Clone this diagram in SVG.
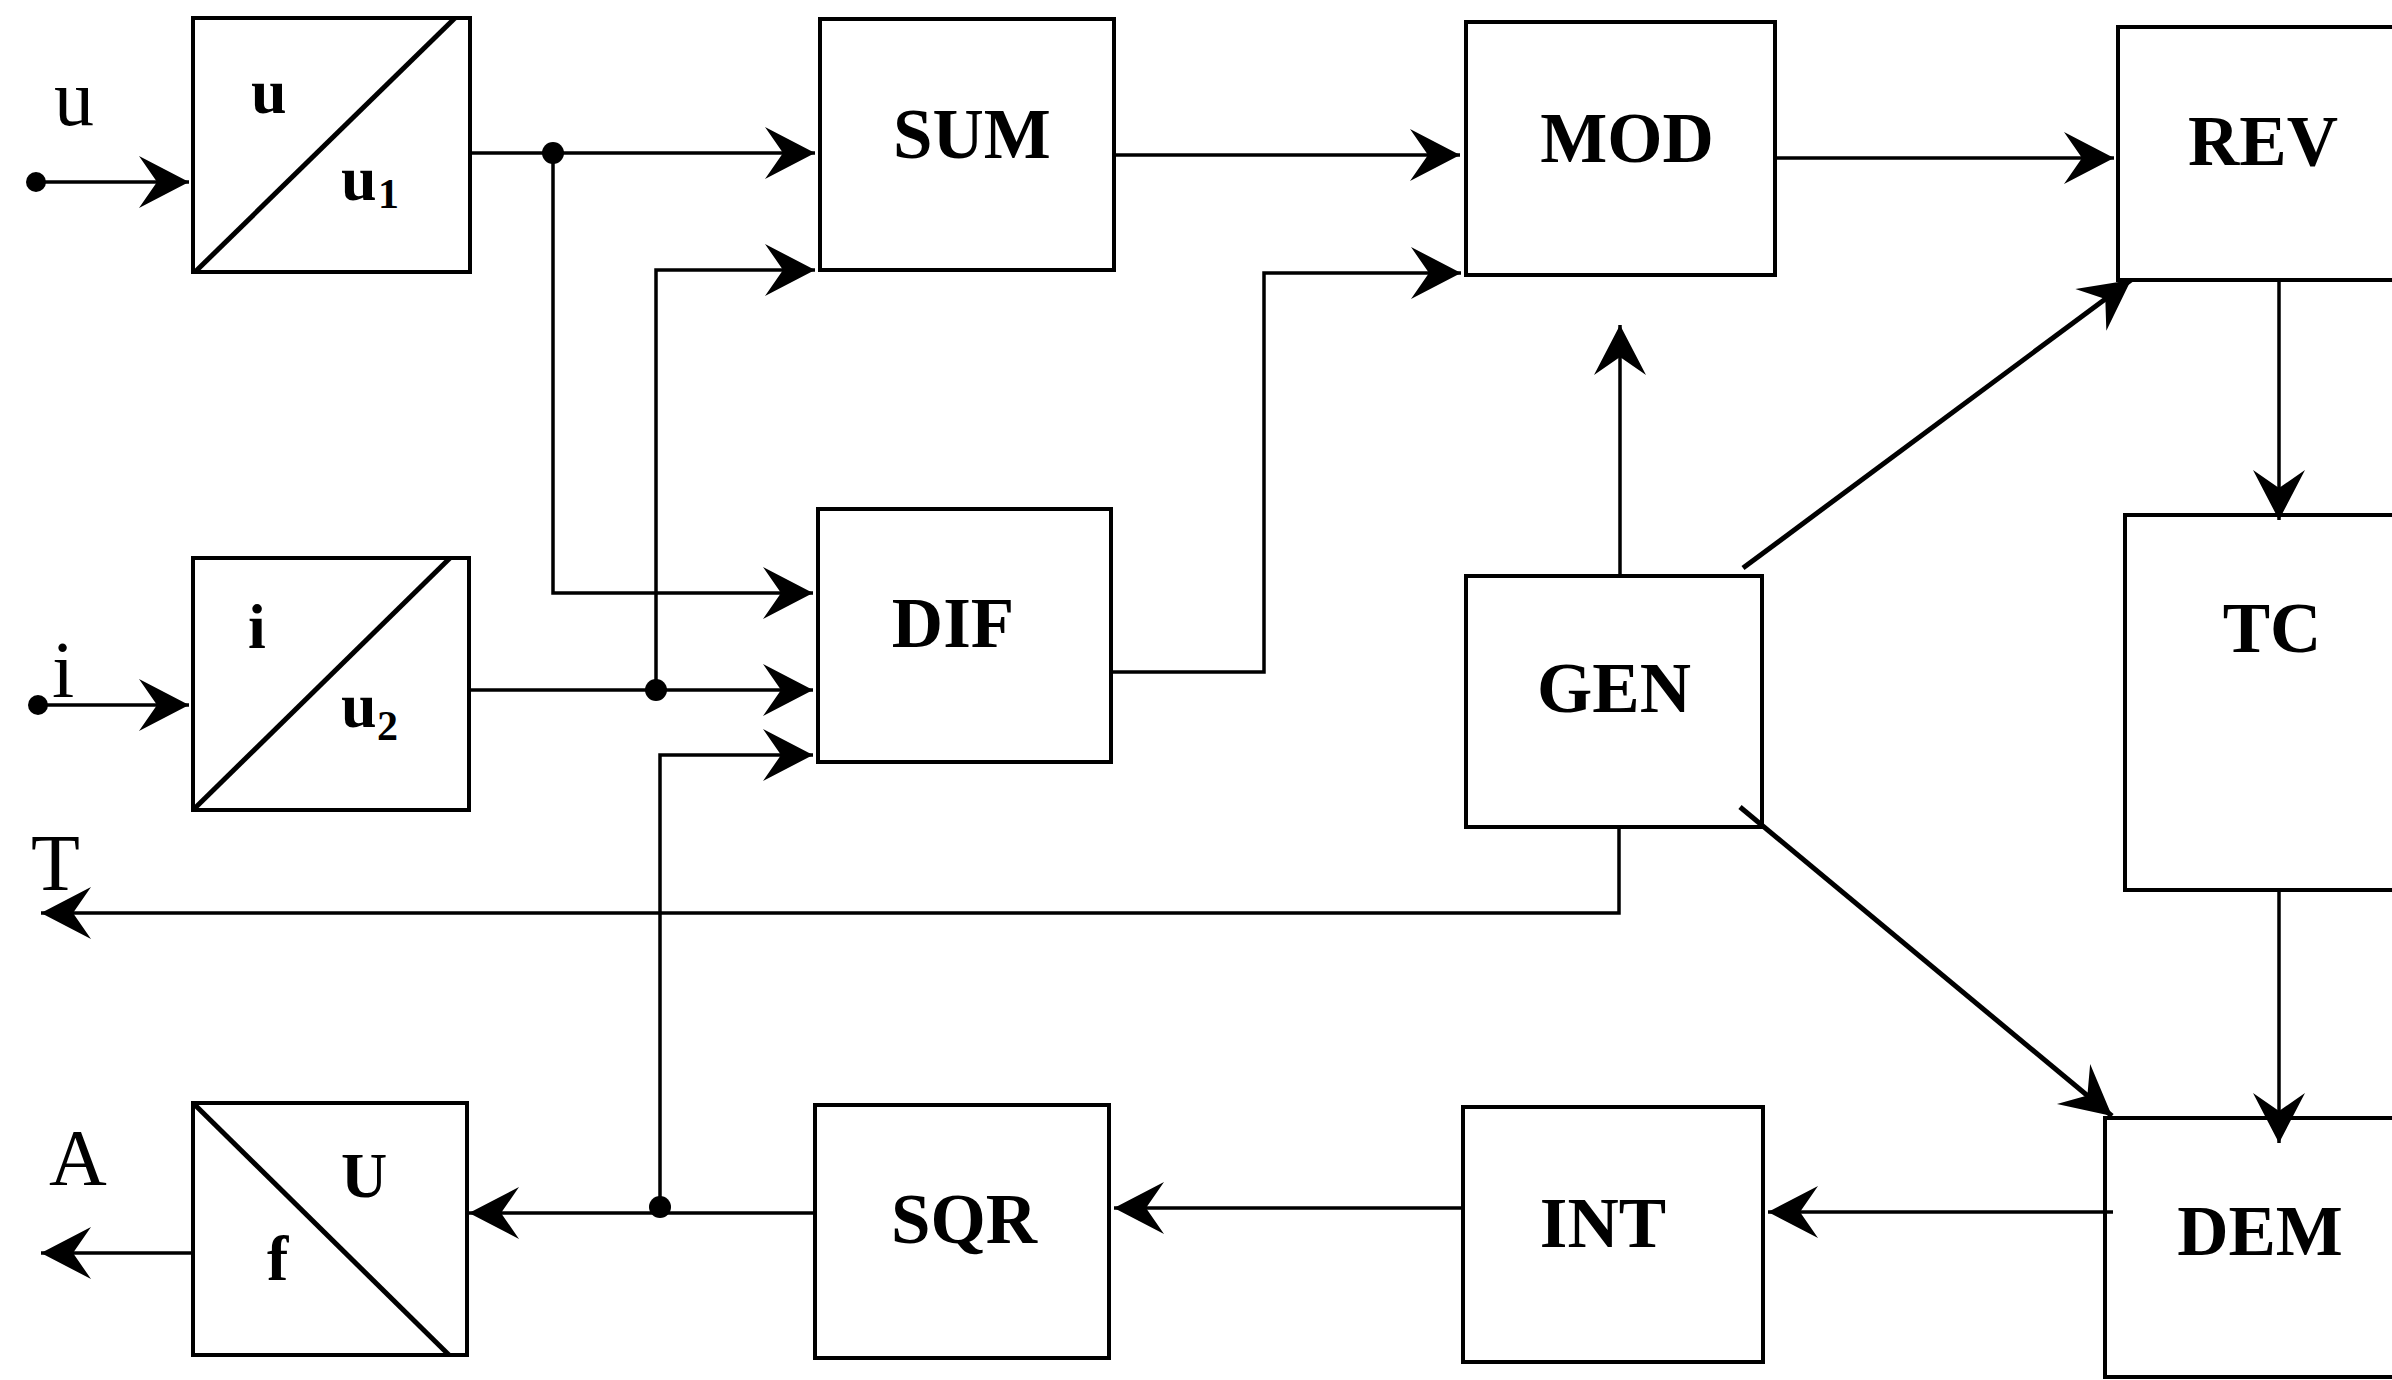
<svg xmlns="http://www.w3.org/2000/svg" width="2392" height="1380" viewBox="0 0 2392 1380">
<style>
.box{fill:none;stroke:#000;stroke-width:4}
.diag{stroke:#000;stroke-width:5;fill:none}
.wire{fill:none;stroke:#000;stroke-width:3.5}
.slant{fill:none;stroke:#000;stroke-width:5}
.lbl{font-family:"Liberation Serif","Times New Roman",serif;font-weight:bold;font-size:71px;text-anchor:middle;fill:#000}
.sym{font-family:"Liberation Serif","Times New Roman",serif;font-weight:bold;font-size:64px;fill:#000}
.sub{font-family:"Liberation Serif","Times New Roman",serif;font-weight:bold;font-size:42px;fill:#000}
.io{font-family:"Liberation Serif","Times New Roman",serif;font-size:80px;fill:#000}
.dot{fill:#000}
</style>
<defs>
<marker id="ah" markerUnits="userSpaceOnUse" markerWidth="60" markerHeight="60" refX="0" refY="0" orient="auto" overflow="visible">
<path d="M0,0 L-50,-26 L-32,0 L-50,26 Z" fill="#000"/>
</marker>
</defs>
<rect width="2392" height="1380" fill="#fff"/>

<g id="conv-u">
<rect class="box" x="193" y="18" width="277" height="254"/>
<line class="diag" x1="195" y1="272" x2="455" y2="18"/>
<text class="sym" x="251" y="113">u</text>
<text class="sym" x="341" y="200">u</text><text class="sub" x="378" y="208">1</text>
</g>
<g id="conv-i">
<rect class="box" x="193" y="558" width="276" height="252"/>
<line class="diag" x1="193" y1="810" x2="450" y2="558"/>
<text class="sym" x="248" y="648">i</text>
<text class="sym" x="341" y="727">u</text><text class="sub" x="377" y="740">2</text>
</g>
<g id="conv-f">
<rect class="box" x="193" y="1103" width="274" height="252"/>
<line class="diag" x1="193" y1="1103" x2="449" y2="1355"/>
<text class="sym" x="341" y="1197">U</text>
<text class="sym" x="267" y="1280">f</text>
</g>
<g id="sum"><rect class="box" x="820" y="19" width="294" height="251"/><text class="lbl" x="972" y="158">SUM</text></g>
<g id="dif"><rect class="box" x="818" y="509" width="293" height="253"/><text class="lbl" x="953" y="647">DIF</text></g>
<g id="sqr"><rect class="box" x="815" y="1105" width="294" height="253"/><text class="lbl" x="964" y="1243">SQR</text></g>
<g id="mod"><rect class="box" x="1466" y="22" width="309" height="253"/><text class="lbl" x="1627" y="162">MOD</text></g>
<g id="gen"><rect class="box" x="1466" y="576" width="296" height="251"/><text class="lbl" x="1614" y="712">GEN</text></g>
<g id="int"><rect class="box" x="1463" y="1107" width="300" height="255"/><text class="lbl" x="1603" y="1247">INT</text></g>
<g id="rev"><rect class="box" x="2118" y="27" width="300" height="253"/><text class="lbl" x="2263" y="165">REV</text></g>
<g id="tc"><rect class="box" x="2125" y="515" width="300" height="375"/><text class="lbl" x="2272" y="652">TC</text></g>
<g id="dem"><rect class="box" x="2105" y="1118" width="320" height="259"/><text class="lbl" x="2260" y="1255">DEM</text></g>

<g id="io-labels">
<text class="io" x="54" y="125">u</text>
<text class="io" x="52" y="697">i</text>
<text class="io" x="31" y="890">T</text>
<text class="io" x="49" y="1185">A</text>
</g>

<g id="connectors">
<circle class="dot" cx="36" cy="182" r="10"/>
<path class="wire" d="M45,182 H189" marker-end="url(#ah)"/>
<circle class="dot" cx="38" cy="705" r="10"/>
<path class="wire" d="M47,705 H189" marker-end="url(#ah)"/>
<path class="wire" d="M470,153 H815" marker-end="url(#ah)"/>
<path class="wire" d="M553,153 V593 H813" marker-end="url(#ah)"/>
<path class="wire" d="M656,690 V270 H815" marker-end="url(#ah)"/>
<path class="wire" d="M469,690 H813" marker-end="url(#ah)"/>
<path class="wire" d="M660,1207 V755 H813" marker-end="url(#ah)"/>
<path class="wire" d="M1114,155 H1460" marker-end="url(#ah)"/>
<path class="wire" d="M1111,672 H1264 V273 H1461" marker-end="url(#ah)"/>
<path class="wire" d="M1775,158 H2114" marker-end="url(#ah)"/>
<path class="wire" d="M1620,576 V325" marker-end="url(#ah)"/>
<path class="slant" d="M1743,568 L2131,280" marker-end="url(#ah)"/>
<path class="slant" d="M1740,807 L2112,1116" marker-end="url(#ah)"/>
<path class="wire" d="M2279,280 V520" marker-end="url(#ah)"/>
<path class="wire" d="M2279,890 V1143" marker-end="url(#ah)"/>
<path class="wire" d="M2113,1212 H1768" marker-end="url(#ah)"/>
<path class="wire" d="M1463,1208 H1114" marker-end="url(#ah)"/>
<path class="wire" d="M815,1213 H469" marker-end="url(#ah)"/>
<path class="wire" d="M193,1253 H41" marker-end="url(#ah)"/>
<path class="wire" d="M1619,827 V913 H41" marker-end="url(#ah)"/>
<circle class="dot" cx="553" cy="153" r="11"/>
<circle class="dot" cx="656" cy="690" r="11"/>
<circle class="dot" cx="660" cy="1207" r="11"/>
</g>
</svg>
